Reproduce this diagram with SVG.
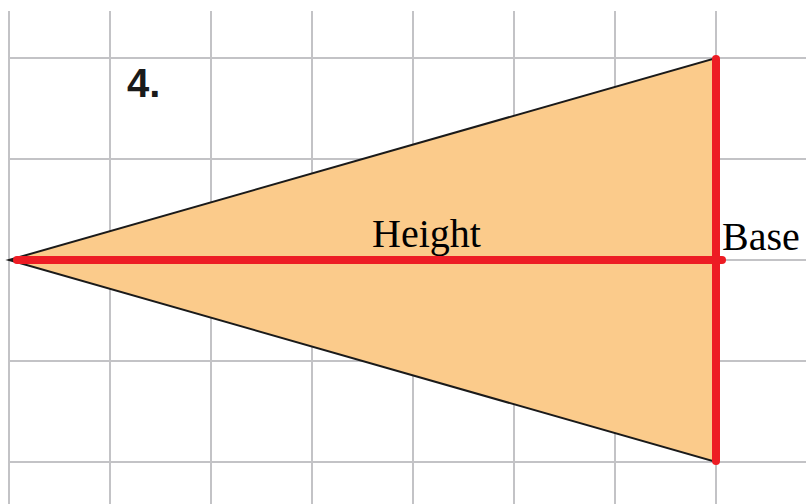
<svg xmlns="http://www.w3.org/2000/svg" width="806" height="504" viewBox="0 0 806 504">
<style>
.grid{stroke:#c3c3c6;stroke-width:2;fill:none}
.red{stroke:#ed1c24;stroke-width:8;stroke-linecap:round;fill:none}
.lbl{font-family:"Liberation Serif","Times New Roman",serif;font-size:40px;fill:#000}
</style>
<rect width="806" height="504" fill="#fff"/>
<g id="grid">
<path class="grid" d="M9 11V504M110 11V504M211 11V504M312 11V504M413 11V504M514 11V504M615 11V504M716 11V504M9 58H806M9 159H806M9 260H806M9 361H806M9 462H806"/>
</g>
<g id="triangle">
<polygon points="9,260 716,58 716,462" fill="#fbcb8b" stroke="#1a1a1a" stroke-width="2" stroke-linejoin="miter"/>
</g>
<g id="connectors">
<line class="red" x1="17" y1="260" x2="722" y2="260"/>
<line class="red" x1="716" y1="59" x2="716" y2="461"/>
</g>
<g id="number">
<text x="127" y="97" font-family="Liberation Sans,Arial,sans-serif" font-weight="bold" font-size="40" fill="#1a1a1a">4.</text>
</g>
<g id="height-label"><text class="lbl" x="372" y="247">Height</text></g>
<g id="base-label"><text class="lbl" x="722" y="250">Base</text></g>
</svg>
